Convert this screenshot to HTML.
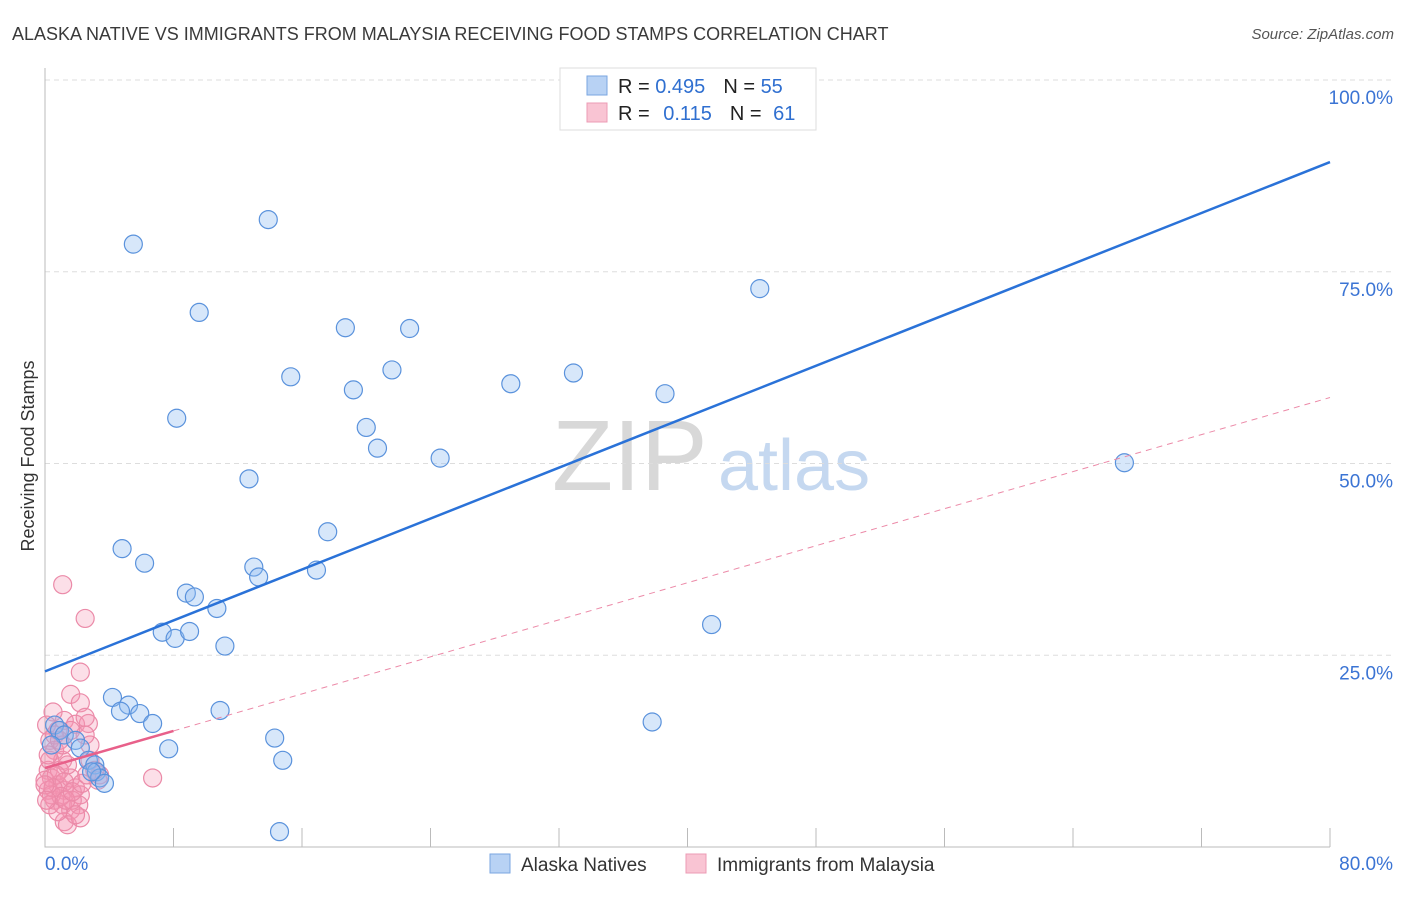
<!DOCTYPE html>
<html><head><meta charset="utf-8"><style>
body{margin:0;background:#fff;font-family:"Liberation Sans",sans-serif}
svg text{font-family:"Liberation Sans",sans-serif}
</style></head><body>
<svg width="1406" height="892" viewBox="0 0 1406 892">
<text x="12" y="40" font-size="18" fill="#3a3a3a">ALASKA NATIVE VS IMMIGRANTS FROM MALAYSIA RECEIVING FOOD STAMPS CORRELATION CHART</text>
<text x="1394" y="39" font-size="15" fill="#555" font-style="italic" text-anchor="end">Source: ZipAtlas.com</text>
<text x="34" y="456" font-size="18" fill="#333" transform="rotate(-90 34 456)" text-anchor="middle">Receiving Food Stamps</text>
<g>
<text x="552" y="490" font-size="100" font-family="Liberation Serif,serif" fill="#d8d8d8">ZIP</text>
<text x="718" y="490" font-size="72" fill="#c5d8f0">atlas</text>
</g>
<g id="grid"></g>
<g id="axes"></g>
<g id="pts"></g>
<g id="lines"></g>
<g>
<rect x="560" y="68" width="256" height="62" fill="#fff" stroke="#ddd"/>
<rect x="587" y="76" width="20" height="19" fill="#b8d2f4" stroke="#7aa6e0"/>
<rect x="587" y="103" width="20" height="19" fill="#f9c4d3" stroke="#ec9bb4"/>
<text x="618" y="93" font-size="20" fill="#222">R = <tspan fill="#2f6fd0">0.495</tspan><tspan dx="18">N = </tspan><tspan fill="#2f6fd0">55</tspan></text>
<text x="618" y="120" font-size="20" fill="#222">R = <tspan dx="8" fill="#2f6fd0">0.115</tspan><tspan dx="18">N = </tspan><tspan dx="6" fill="#2f6fd0">61</tspan></text>
</g>
<g>
<rect x="490" y="854" width="20" height="19" fill="#b8d2f4" stroke="#7aa6e0"/>
<text x="521" y="871" font-size="19" fill="#333">Alaska Natives</text>
<rect x="686" y="854" width="20" height="19" fill="#f9c4d3" stroke="#ec9bb4"/>
<text x="717" y="871" font-size="19" fill="#333">Immigrants from Malaysia</text>
</g>
</svg>
<script>
const blueX=[13.9,5.5,9.6,18.7,22.7,15.3,21.6,19.2,8.2,20.0,20.7,24.6,12.7,29.0,32.9,38.6,44.5,67.2,4.8,6.2,17.6,13.0,13.3,16.9,8.8,9.3,10.7,7.3,8.1,9.0,11.2,41.5,4.2,5.2,4.7,5.9,6.7,10.9,37.8,14.3,7.7,14.8,14.6,0.6,0.9,1.2,0.4,1.9,2.2,2.7,3.1,3.2,3.4,3.7,2.9];
const blueY=[81.8,78.6,69.7,67.7,67.6,61.3,62.2,59.6,55.9,54.7,52.0,50.7,48.0,60.4,61.8,59.1,72.8,50.1,38.9,37.0,41.1,36.5,35.2,36.1,33.1,32.6,31.1,28.0,27.2,28.1,26.2,29.0,19.5,18.5,17.7,17.4,16.1,17.8,16.3,14.2,12.8,11.3,2.0,15.9,15.2,14.6,13.3,13.9,12.9,11.3,10.7,9.8,9.0,8.3,9.8];
const pinkX=[1.1,2.5,2.2,1.6,2.2,0.5,1.2,1.9,2.7,2.5,2.8,0.8,0.3,0.6,1.1,0.2,0.4,0.8,1.2,1.6,1.9,2.2,0.6,1.1,1.6,2.1,0.2,0.3,0,0.9,1.4,1.7,1.2,1.4,2.2,6.7,3.4,3.3,0.2,0.4,0.7,1.2,0.1,0.6,1.1,1.6,2.5,2.8,3.1,0.3,0.8,1.9,0.5,1.0,1.3,1.7,2.3,2.6,0,0.1,0.9];
const pinkY=[34.2,29.8,22.8,19.9,18.8,17.6,16.5,16.0,16.1,16.9,13.3,15.2,13.9,12.6,11.3,10.0,9.0,8.1,7.4,9.0,7.7,6.8,6.1,5.5,4.8,5.5,7.4,11.3,8.7,10.0,10.7,6.1,3.3,2.9,3.8,9.0,9.4,8.7,12.0,6.8,9.4,8.5,15.9,14.6,13.3,15.2,14.6,11.3,10.0,5.5,4.6,4.2,7.7,6.6,6.1,7.2,8.3,9.4,8.1,6.1,13.9];
const yTicks=[25,50,75,100];
const xTickLabels=["0.0%","80.0%"];
const blueTrend=[22.9,89.3];
const pinkTrend=[10.3,58.6];
const pinkSolidEnd=8;
const X=v=>45+v*(1285/80), Y=v=>847-v*(767/100);
const NS="http://www.w3.org/2000/svg";
function mk(t,a,p){const e=document.createElementNS(NS,t);for(const k in a)e.setAttribute(k,a[k]);p.appendChild(e);return e;}
const grid=document.getElementById('grid'),axes=document.getElementById('axes'),pts=document.getElementById('pts'),lines=document.getElementById('lines');
yTicks.forEach(t=>{
 const l=mk('line',{x1:45,x2:1393,y1:Y(t),y2:Y(t),stroke:'#ddd','stroke-dasharray':'5,4'},grid);
 
 
 const tx=mk('text',{x:1393,y:Y(t)+24,'text-anchor':'end','font-size':19,fill:'#3b74d4'},grid);
 tx.textContent=t.toFixed(1)+'%';
 
 
});
const ax=mk('path',{d:`M45 68V847H1330`,fill:'none',stroke:'#bbb'},axes);


for(let i=1;i<=10;i++){const v=i*8;const t=mk('line',{x1:X(v),x2:X(v),y1:828,y2:847,stroke:'#bbb'},axes);
 
 }
const xl0=mk('text',{x:45,y:870,'font-size':19,fill:'#3b74d4'},axes);xl0.textContent=xTickLabels[0];


const xl1=mk('text',{x:1393,y:870,'font-size':19,fill:'#3b74d4','text-anchor':'end'},axes);xl1.textContent=xTickLabels[1];


pinkX.forEach((x,i)=>{const c=mk('circle',{cx:X(x),cy:Y(pinkY[i]),r:9,fill:'rgba(244,150,180,0.3)',stroke:'#eb8aa8','stroke-width':1.2},pts);
 
 });
blueX.forEach((x,i)=>{const c=mk('circle',{cx:X(x),cy:Y(blueY[i]),r:9,fill:'rgba(140,185,240,0.35)',stroke:'#5a92dc','stroke-width':1.2},pts);
 
 });
const bl=mk('line',{x1:X(0),y1:Y(blueTrend[0]),x2:X(80),y2:Y(blueTrend[1]),stroke:'#2a72d8','stroke-width':2.5},lines);


const pv=v=>pinkTrend[0]+(pinkTrend[1]-pinkTrend[0])*v/80;
const pd=mk('line',{x1:X(pinkSolidEnd),y1:Y(pv(pinkSolidEnd)),x2:X(80),y2:Y(pinkTrend[1]),stroke:'#ec8aa8','stroke-width':1,'stroke-dasharray':'6,5'},lines);


const ps=mk('line',{x1:X(0),y1:Y(pinkTrend[0]),x2:X(pinkSolidEnd),y2:Y(pv(pinkSolidEnd)),stroke:'#e8608a','stroke-width':2.5},lines);


</script>
</body></html>
